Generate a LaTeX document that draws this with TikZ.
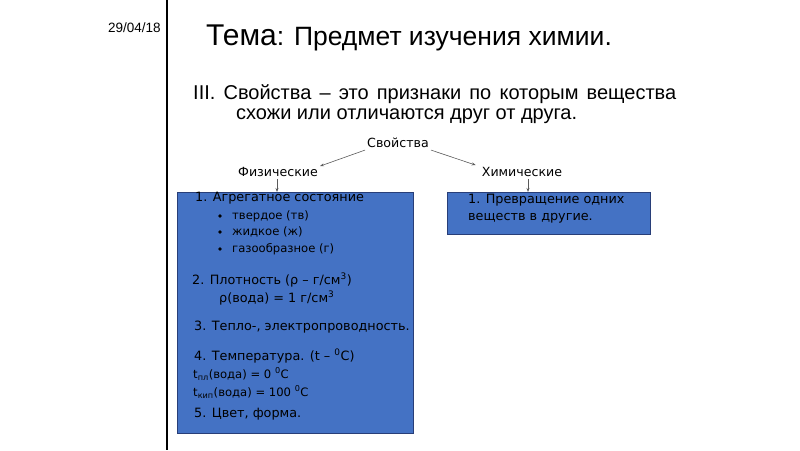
\documentclass[tikz,border=0pt]{standalone}
\usepackage{fontspec}
\setmainfont{DejaVu Sans}
\newfontfamily\slidefont{Liberation Sans}
\usetikzlibrary{arrows.meta,positioning}
\definecolor{boxblue}{RGB}{68,114,196}
\definecolor{boxedge}{RGB}{40,62,120}
\definecolor{arrowgray}{RGB}{90,90,90}

\begin{document}
\begin{tikzpicture}[x=1pt,y=-1pt,
    every node/.style={inner sep=0pt,anchor=west},
    lbl/.style={anchor=center,font=\fontsize{12.6}{14}\selectfont},
    txt/.style={font=\fontsize{12.8}{15}\selectfont},
    sml/.style={font=\fontsize{11.6}{13}\selectfont},
    propbox/.style={draw=boxedge,fill=boxblue,anchor=north west,line width=0.6pt},
    arr/.style={-{Stealth[length=4pt,width=3pt]},arrowgray,line width=0.6pt}]
        \useasboundingbox (0,0) rectangle (800,450);
        % --- Side bar ---
        \node[font=\slidefont\fontsize{13.5}{15}\selectfont] (datum) at (108,28) {29/04/18};
        \draw[line width=1.6pt] (167,0) -- (167,450);

        % --- Title and definition ---
        \node (tema) at (206,38)
          {\slidefont\fontsize{30}{32}\selectfont Тема\fontsize{26.5}{28}\selectfont: Предмет изучения химии.};
        \node[font=\slidefont\fontsize{20}{22}\selectfont] (def1) at (193,94)
          {\makebox[483pt][s]{III. Свойства – это признаки по которым вещества}};
        \node[font=\slidefont\fontsize{20}{22}\selectfont] (def2) at (236,116)
          {схожи или отличаются друг от друга.};

        % --- Scheme ---
        \node[lbl] (svoistva) at (398,143) {Свойства};
        \node[lbl] (fiz) at (278,172) {Физические};
        \node[lbl] (him) at (522,172) {Химические};

        \node[propbox,minimum width=236pt,minimum height=241pt] (fizbox) at (177,192) {};
        \node[propbox,minimum width=203pt,minimum height=42pt] (himbox) at (447,192) {};

        \draw[arr] ([xshift=-2pt,yshift=-2pt]svoistva.south west) -- ([xshift=2pt,yshift=1pt]fiz.north east);
        \draw[arr] ([xshift=2pt,yshift=-2pt]svoistva.south east) -- ([xshift=-6pt,yshift=2pt]him.north west);
        \draw[arr] (fiz.south) ++(-1pt,-2pt) coordinate (fizstart) -- (fizstart |- fizbox.north);
        \draw[arr] (him.south) ++(6pt,-2pt) coordinate (himstart) -- (himstart |- himbox.north);

        % physical properties
        \node[txt] (agr) at (195,198) {1. Агрегатное состояние};
        \foreach \y/\s [count=\i] in {216/твердое (тв),232/жидкое (ж),249/газообразное (г)} {
          \fill[black] (220,\y) circle (1.8pt);
          \node[sml] (state\i) at (232,\y) {\s};
        }
        \node[txt] (dens) at (192,280) {2. Плотность (ρ – г/см\textsuperscript{3})};
        \node[txt] (densw) at (219,298) {ρ(вода) = 1 г/см\textsuperscript{3}};
        \node[txt] (cond) at (194,327) {3. Тепло-, электропроводность.};
        \node[txt] (temp) at (194,356) {4. Температура. (t – \textsuperscript{0}C)};
        \node[sml] (tmelt) at (193,374) {t\textsubscript{пл}(вода) = 0 \textsuperscript{0}C};
        \node[sml] (tboil) at (193,392) {t\textsubscript{кип}(вода) = 100 \textsuperscript{0}C};
        \node[txt] (col) at (194,414) {5. Цвет, форма.};

        % chemical properties
        \node[txt] (conv1) at (468,200) {1. Превращение одних};
        \node[txt] (conv2) at (468,218) {веществ в другие.};
      \end{tikzpicture}
\end{document}
